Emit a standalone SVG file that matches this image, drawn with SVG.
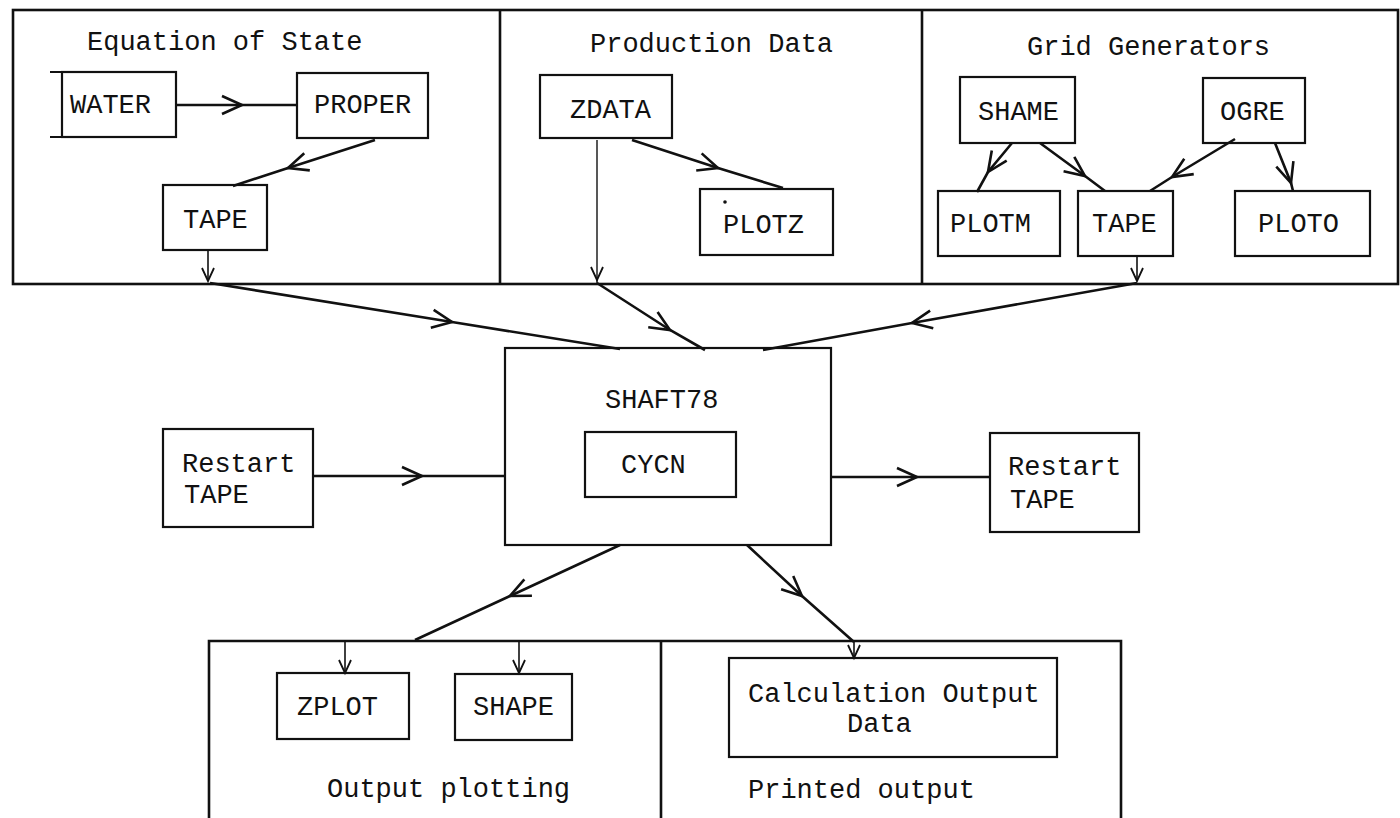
<svg xmlns="http://www.w3.org/2000/svg" width="1400" height="818" viewBox="0 0 1400 818">
<style>
text{font-family:"Liberation Mono","Courier New",monospace;font-size:27px;fill:#111}
.frame{fill:none;stroke:#111;stroke-width:2.6}
.box{fill:none;stroke:#111;stroke-width:2.2}
.c{fill:none;stroke:#111;stroke-width:2.6;marker-mid:url(#chev)}
.t{fill:none;stroke:#111;stroke-width:1.6;marker-end:url(#small)}
</style>
<defs>
<marker id="chev" markerUnits="userSpaceOnUse" orient="auto" markerWidth="40" markerHeight="40" viewBox="-30 -20 40 40" refX="0" refY="0" overflow="visible">
<path d="M-20,-9 L0,0 L-20,9" fill="none" stroke="#111" stroke-width="2.6"/>
</marker>
<marker id="small" markerUnits="userSpaceOnUse" orient="auto" markerWidth="30" markerHeight="30" viewBox="-20 -15 30 30" refX="0" refY="0" overflow="visible">
<path d="M-13,-6 L0,0 L-13,6" fill="none" stroke="#111" stroke-width="1.8"/>
</marker>
</defs>

<g id="frames">
<rect class="frame" x="13" y="10" width="1385" height="274"/>
<path class="frame" d="M500,10 V284 M922,10 V284"/>
<path class="frame" d="M209,818 V641 H1121 V818 M661,641 V818"/>
</g>

<g id="labels">
<text x="87" y="50">Equation of State</text>
<text x="590" y="52">Production Data</text>
<text x="1027" y="55">Grid Generators</text>
<text x="327" y="797">Output plotting</text>
<text x="748" y="798">Printed output</text>
</g>

<g id="water">
<rect class="box" x="62" y="72" width="114" height="65"/>
<path class="box" d="M50,72 H62 M50,137 H62"/>
<text x="70" y="113">WATER</text>
</g>
<g id="proper">
<rect class="box" x="297" y="73" width="131" height="65"/>
<text x="314" y="113">PROPER</text>
</g>
<g id="tape1">
<rect class="box" x="163" y="185" width="104" height="65"/>
<text x="183" y="228">TAPE</text>
</g>
<g id="zdata">
<rect class="box" x="540" y="75" width="132" height="63"/>
<text x="570" y="118">ZDATA</text>
</g>
<g id="plotz">
<rect class="box" x="700" y="189" width="133" height="66"/>
<circle cx="725" cy="202" r="1.8" fill="#111"/>
<text x="723" y="233">PLOTZ</text>
</g>
<g id="shame">
<rect class="box" x="960" y="77" width="115" height="66"/>
<text x="978" y="120">SHAME</text>
</g>
<g id="ogre">
<rect class="box" x="1203" y="78" width="102" height="65"/>
<text x="1220" y="120">OGRE</text>
</g>
<g id="plotm">
<rect class="box" x="938" y="191" width="122" height="65"/>
<text x="950" y="232">PLOTM</text>
</g>
<g id="tape2">
<rect class="box" x="1078" y="191" width="95" height="65"/>
<text x="1092" y="232">TAPE</text>
</g>
<g id="ploto">
<rect class="box" x="1235" y="191" width="135" height="65"/>
<text x="1258" y="232">PLOTO</text>
</g>

<g id="shaft78">
<rect class="box" x="505" y="348" width="326" height="197"/>
<text x="605" y="408">SHAFT78</text>
</g>
<g id="cycn">
<rect class="box" x="585" y="432" width="151" height="65"/>
<text x="621" y="473">CYCN</text>
</g>
<g id="restart-in">
<rect class="box" x="163" y="429" width="150" height="98"/>
<text x="182" y="472">Restart</text>
<text x="184" y="503">TAPE</text>
</g>
<g id="restart-out">
<rect class="box" x="990" y="433" width="149" height="99"/>
<text x="1008" y="475">Restart</text>
<text x="1010" y="508">TAPE</text>
</g>
<g id="zplot">
<rect class="box" x="277" y="673" width="132" height="66"/>
<text x="297" y="715">ZPLOT</text>
</g>
<g id="shape">
<rect class="box" x="455" y="674" width="117" height="66"/>
<text x="473" y="715">SHAPE</text>
</g>
<g id="calc">
<rect class="box" x="729" y="658" width="328" height="99"/>
<text x="748" y="702">Calculation Output</text>
<text x="847" y="732">Data</text>
</g>

<g id="connectors">
<path class="c" d="M176,105 L242,105 L297,105"/>
<path class="c" d="M375,140 L288,168 L233,186"/>
<path class="t" d="M208,250 L208,281"/>
<path class="c" d="M632,140 L718,168 L783,188"/>
<path class="t" d="M597,140 L597,280" style="stroke-width:1.4"/>
<path class="t" d="M597,280 L597,284" style="marker-end:none;stroke-width:1.4"/>
<path class="c" d="M1012,143 L988,172 L977,192"/>
<path class="c" d="M1040,143 L1085,176 L1105,191"/>
<path class="c" d="M1235,139 L1172,177 L1150,191"/>
<path class="c" d="M1275,143 L1291,183 L1293,191"/>
<path class="t" d="M1137,256 L1137,281"/>
<path class="c" d="M210,283 L452,322 L620,349"/>
<path class="c" d="M597,283 L670,330 L705,350"/>
<path class="c" d="M1137,283 L912,323 L763,350"/>
<path class="c" d="M313,476 L422,476 L505,476"/>
<path class="c" d="M831,477 L917,477 L990,477"/>
<path class="c" d="M620,545 L510,596 L415,640"/>
<path class="c" d="M747,545 L802,596 L854,642"/>
<path class="t" d="M854,642 L854,658"/>
<path class="t" d="M345,640 L345,673"/>
<path class="t" d="M519,640 L519,673"/>
</g>
</svg>
